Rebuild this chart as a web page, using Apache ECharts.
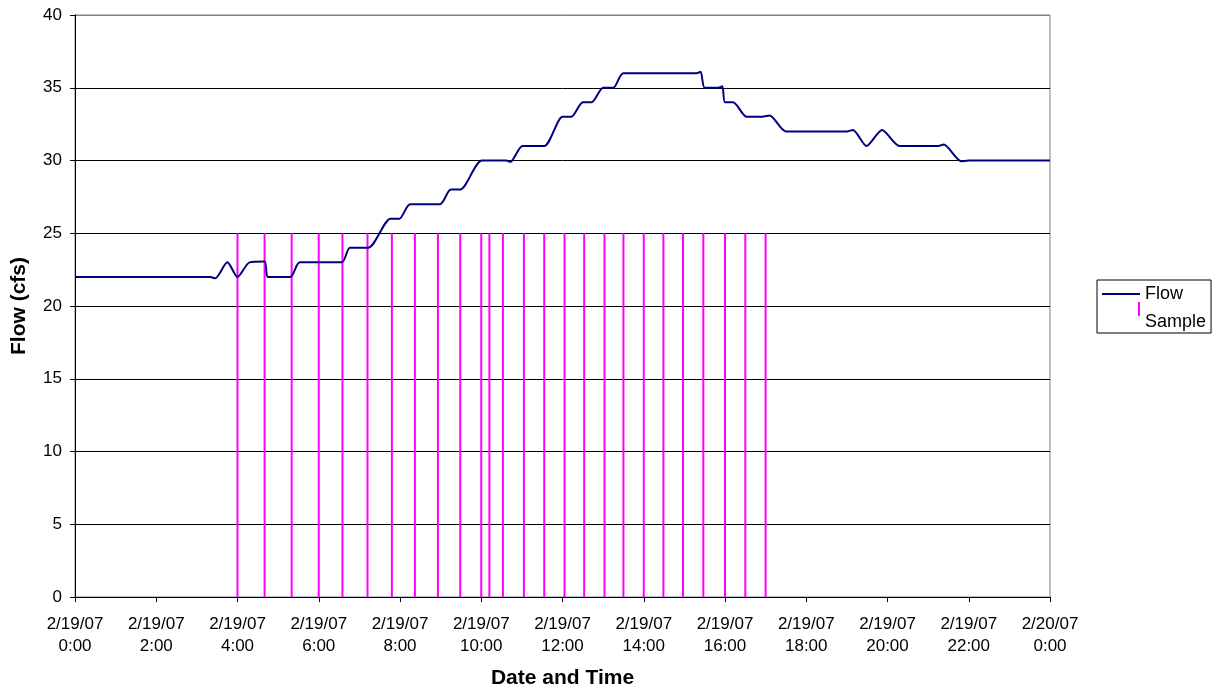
<!DOCTYPE html>
<html>
<head>
<meta charset="utf-8">
<script src="https://cdn.jsdelivr.net/npm/echarts@6/dist/echarts.min.js"></script>
<style>
  html, body { margin: 0; padding: 0; background: #ffffff; }
  #chart { width: 1216px; height: 694px; }
</style>
</head>
<body>
<div id="chart"></div>
<script>
// ---- data ----
const flowTimes = ["0:00","3:20","3:27","3:45","4:00","4:18","4:40","4:45","5:18","5:32","6:34","6:46","7:13","7:46","7:59","8:15","8:59","9:15","9:29","10:01","10:37","10:43","11:01","11:33","12:00","12:13","12:30","12:43","13:00","13:15","13:30","15:18","15:24","15:30","15:50","15:56","16:00","16:12","16:32","16:55","17:06","17:30","19:00","19:09","19:29","19:52","20:18","21:15","21:23","21:49","22:00","24:00"];
const flowValues = [22,22,21.9,23,22,23,23.05,22,22,23,23,24,24,26,26,27,27,28,28,30,30,29.9,31,31,33,33,34,34,35,35,36,36,36.1,35,35,35.1,34,34,33,33,33.1,32,32,32.1,31,32.1,31,31,31.1,29.95,30,30];

const sampleTimes = ["4:00","4:40","5:20","6:00","6:35","7:12","7:48","8:22","8:56","9:29","10:00","10:12","10:32","11:03","11:33","12:03","12:32","13:02","13:30","14:00","14:29","14:58","15:28","16:00","16:30","17:00"];
const sampleValues = [25,25,25,25,25,25,25,25,25,25,25,25,25,25,25,25,25,25,25,25,25,25,25,25,25,25];

const xTickHours = [0,2,4,6,8,10,12,14,16,18,20,22,24];
const yTicks = [0,5,10,15,20,25,30,35,40];

// ---- helpers ----
function toHours(s) { const p = s.split(":"); return (+p[0]) + (+p[1]) / 60; }
const flowData = flowTimes.map((t, i) => [toHours(t), flowValues[i]]);
const sampleData = sampleTimes.map((t, i) => [toHours(t), sampleValues[i]]);

const font = "'Liberation Sans', Arial, sans-serif";
const chart = echarts.init(document.getElementById('chart'), null, { renderer: 'canvas' });

chart.setOption({
  animation: false,
  backgroundColor: '#ffffff',
  textStyle: { fontFamily: font },
  grid: {
    left: 75, right: 166, top: 15, bottom: 96,
    show: true, borderColor: '#808080', borderWidth: 1, backgroundColor: 'transparent'
  },
  legend: {
    orient: 'vertical',
    left: 1097, top: 280,
    padding: [4, 5, 1, 5],
    itemGap: -12,
    itemWidth: 38, itemHeight: 20,
    borderColor: '#000000', borderWidth: 1, borderRadius: 0,
    textStyle: { fontFamily: font, fontSize: 18, lineHeight: 20, color: '#000' },
    formatter: function (name) { return name === 'Sample' ? '\nSample' : name; },
    data: [
      { name: 'Flow', icon: 'path://M0,0L0,0M0,9H38V11H0ZM38,20L38,20' },
      { name: 'Sample', icon: 'path://M0,0L0,0M36,0H38V14H36ZM38,20L38,20' }
    ]
  },
  xAxis: {
    type: 'value', min: 0, max: 24, interval: 2,
    name: 'Date and Time', nameLocation: 'middle', nameGap: 71,
    nameTextStyle: { fontFamily: font, fontSize: 21, fontWeight: 'bold', color: '#000' },
    axisLine: { show: true, onZero: false, lineStyle: { color: '#000', width: 1 } },
    axisTick: { show: true, length: 5, lineStyle: { color: '#000' } },
    axisLabel: {
      fontFamily: font, fontSize: 17, color: '#000', margin: 16, lineHeight: 22,
      formatter: function (v) {
        const day = v >= 24 ? '2/20/07' : '2/19/07';
        return day + '\n' + (v % 24) + ':00';
      }
    },
    splitLine: { show: false }
  },
  yAxis: {
    type: 'value', min: 0, max: 40, interval: 5,
    name: 'Flow (cfs)', nameLocation: 'middle', nameGap: 45, nameRotate: 90,
    nameTextStyle: { fontFamily: font, fontSize: 21, fontWeight: 'bold', color: '#000' },
    axisLine: { show: true, lineStyle: { color: '#000', width: 1 } },
    axisTick: { show: true, length: 5, lineStyle: { color: '#000' } },
    axisLabel: { fontFamily: font, fontSize: 17, color: '#000', margin: 13 },
    splitLine: { show: true, lineStyle: { color: ['#000','#000','#000','#000','#000','#000','#000','#000','#808080'], width: 1 } }
  },
  series: [
    {
      name: 'Flow', type: 'line', data: flowData,
      symbol: 'none', smooth: 0.25,
      lineStyle: { color: '#000080', width: 2 },
      itemStyle: { color: '#000080' },
      z: 3
    },
    {
      name: 'Sample', type: 'custom', data: sampleData,
      encode: { x: 0, y: 1 },
      itemStyle: { color: '#FF00FF' },
      renderItem: function (params, api) {
        const x = api.value(0);
        const p0 = api.coord([x, 0]);
        const p1 = api.coord([x, api.value(1)]);
        return {
          type: 'line',
          shape: { x1: p0[0], y1: p0[1], x2: p1[0], y2: p1[1] },
          style: { stroke: '#FF00FF', lineWidth: 2 }
        };
      },
      z: 2
    }
  ]
});
</script>
</body>
</html>
